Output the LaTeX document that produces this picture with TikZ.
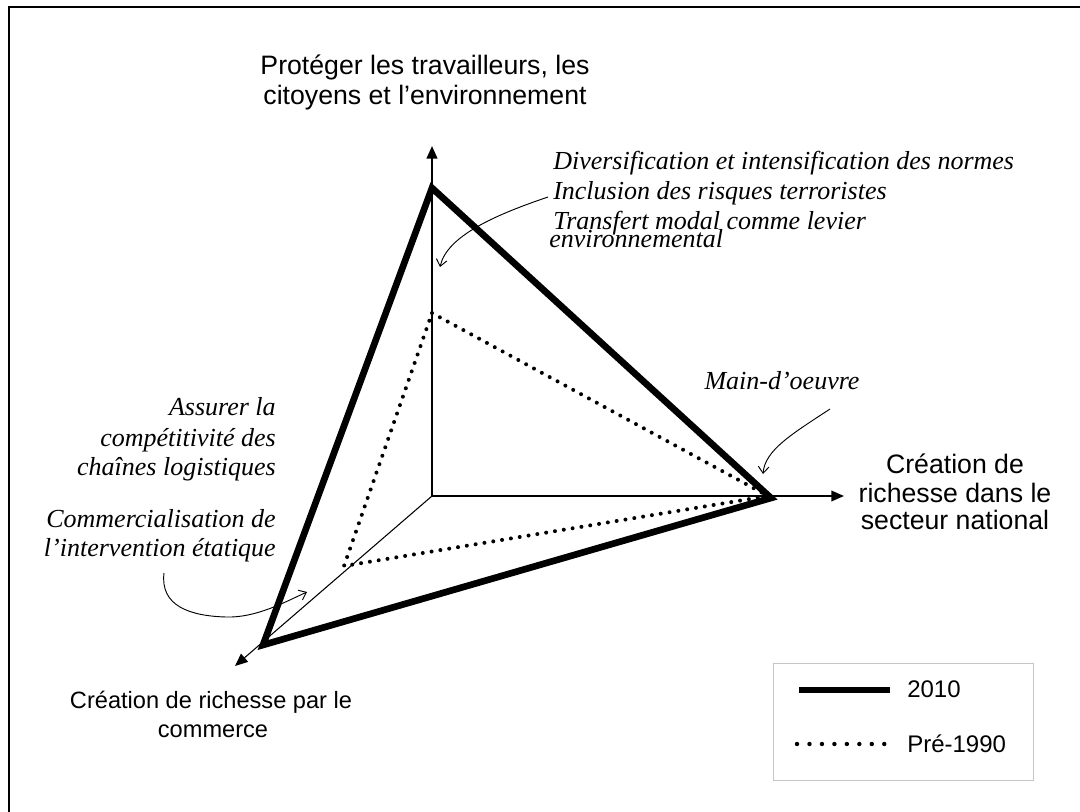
\documentclass[tikz,border=0pt]{standalone}
\usepackage{fontspec}
\setmainfont{Liberation Serif}
\setsansfont{Liberation Sans}
\usetikzlibrary{arrows.meta}
\begin{document}
\begin{tikzpicture}[x=0.75pt,y=-0.75pt,
  sanslbl/.style={font=\sffamily\fontsize{20}{23}\selectfont, inner sep=0pt, anchor=base},
  sanssmall/.style={font=\sffamily\fontsize{17.7}{21}\selectfont, inner sep=0pt, anchor=base},
  legtext/.style={font=\sffamily\fontsize{18}{21}\selectfont, inner sep=0pt, anchor=base west},
  itlbl/.style={font=\itshape\fontsize{19.5}{22}\selectfont, inner sep=0pt},
  axis/.style={-{Triangle[length=9.5pt,width=8pt]}},
  thickline/.style={line width=5pt, line join=miter},
  dotline/.style={line width=3pt, line cap=round, dash pattern=on 0pt off 6.7pt},
  pointer/.style={line width=0.7pt, -{Straight Barb[length=5pt,width=8pt]}}]
\useasboundingbox (0,0) rectangle (1080,812);
% frame
\draw[line width=1.5pt] (9,812) -- (9,7) -- (1080,7);
% axes
\coordinate (O) at (432,496);
\coordinate (Ytip) at (432,146);
\coordinate (Xtip) at (844,496);
\coordinate (Ztip) at (235,666);
\draw[axis, line width=1.6pt] (O) -- (Ytip);
\draw[axis, line width=1.2pt] (O) -- (Xtip);
\draw[axis, line width=0.8pt] (O) -- (Ztip);
% triangles
\coordinate (T1) at (432,188);
\coordinate (T2) at (771,498);
\coordinate (T3) at (263,645);
\draw[thickline] (T1) -- (T2) -- (T3) -- cycle;
\coordinate (D1) at (432,313);
\coordinate (D2) at (768,496);
\coordinate (D3) at (344,566);
\draw[dotline] (D1) -- (D2) -- (D3) -- cycle;
% labels
\node[sanslbl] (p1) at (425,75) {Protéger les travailleurs, les};
\node[sanslbl] (p2) at (425,105) {citoyens et l’environnement};
\node[sanslbl] (c1) at (955,473) {Création de};
\node[sanslbl] (c2) at (955,502) {richesse dans le};
\node[sanslbl] (c3) at (955,529) {secteur national};
\node[sanssmall] (b1) at (211,708) {Création de richesse par le};
\node[sanssmall] (b2) at (213,737) {commerce};
\node[itlbl, anchor=base west] (i1) at (553,170) {Diversification et intensification des normes};
\node[itlbl, anchor=base west] (i2) at (553,200) {Inclusion des risques terroristes};
\node[itlbl, anchor=base west] (i3) at (553,230) {Transfert modal comme levier};
\node[itlbl, anchor=base west] (i4) at (549,248) {environnemental};
\node[itlbl, anchor=base] (m1) at (782,389) {Main-d’oeuvre};
\node[itlbl, anchor=base east] (a1) at (276,415) {Assurer la};
\node[itlbl, anchor=base east] (a2) at (276,446) {compétitivité des};
\node[itlbl, anchor=base east] (a3) at (276,475) {chaînes logistiques};
\node[itlbl, anchor=base east] (k1) at (276,527) {Commercialisation de};
\node[itlbl, anchor=base east] (k2) at (276,556) {l’intervention étatique};
% pointers
\coordinate (s1) at (548,197);
\coordinate (e1) at (440,267);
\draw[pointer] (s1) .. controls (495,215) and (447,236) .. (e1);
\coordinate (s2) at (830,409);
\coordinate (e2) at (763,474);
\draw[pointer] (s2) .. controls (792,434) and (765,450) .. (e2);
\coordinate (s3) at (164,573);
\coordinate (m3) at (226,617);
\coordinate (e3) at (307,592);
\draw[pointer] (s3) .. controls (160,606) and (190,616) .. (m3) .. controls (256,618) and (285,602) .. (e3);
% legend
\node[draw=gray!45, line width=0.8pt, minimum width=195pt, minimum height=87.75pt, inner sep=0pt, anchor=north west] (leg) at (773,663) {};
\coordinate (l1a) at (799,690);
\coordinate (l1b) at (890,690);
\draw[line width=5pt] (l1a) -- (l1b);
\node[legtext] (lt1) at (907,697) {2010};
\coordinate (l2a) at (797,744);
\coordinate (l2b) at (885,744);
\draw[line width=3.3pt, line cap=round, dash pattern=on 0pt off 9.35pt] (l2a) -- (l2b);
\node[legtext] (lt2) at (907,752) {Pré-1990};
\end{tikzpicture}
\end{document}
